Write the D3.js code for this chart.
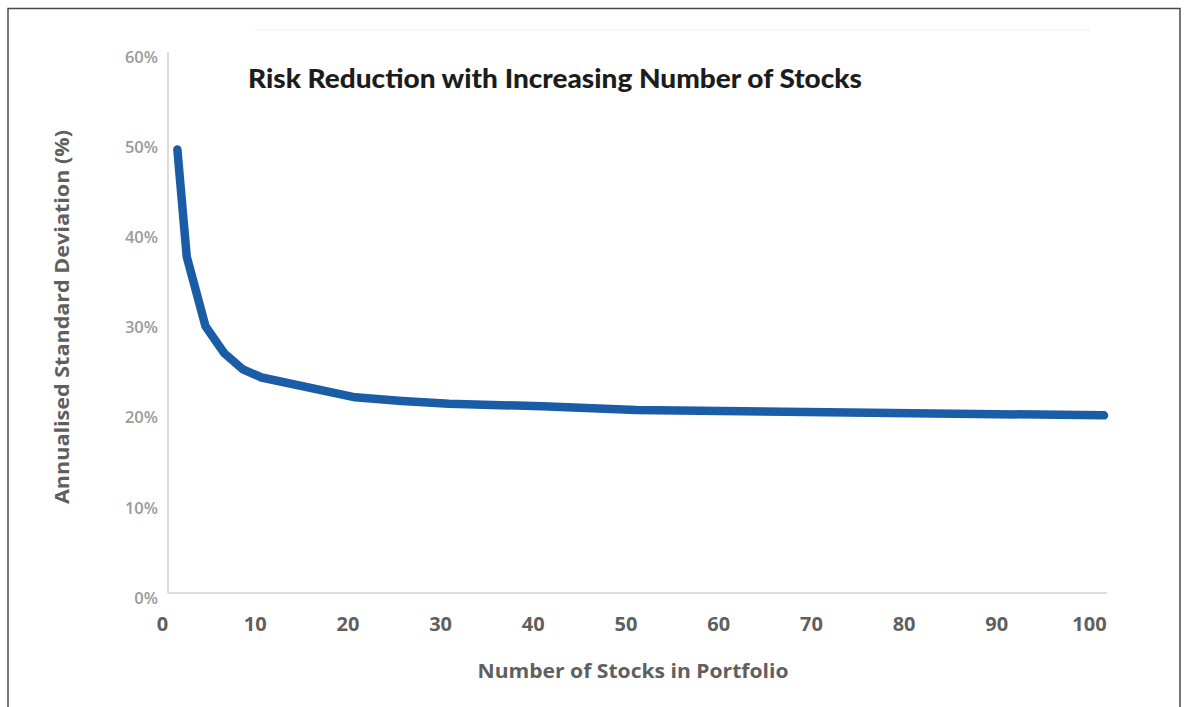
<!DOCTYPE html>
<html>
<head>
<meta charset="utf-8">
<script src="https://cdn.jsdelivr.net/npm/d3@7"></script>
<style>
  html, body { margin: 0; padding: 0; background: #fff; }
  svg { display: block; }
</style>
</head>
<body>
<div id="chart"></div>
<script>
// Portfolio size (number of stocks) and annualised standard deviation (%)
const stockCounts = [1, 2, 4, 6, 8, 10, 20, 25, 30, 40, 50, 75, 100];
const stdDev      = [49.2, 37.3, 29.6, 26.6, 24.8, 23.9, 21.7, 21.3, 21.0, 20.7, 20.3, 20.0, 19.7];

const xTickValues = [0, 10, 20, 30, 40, 50, 60, 70, 80, 90, 100];
const yTickValues = [0, 10, 20, 30, 40, 50, 60];

const titleText = "Risk Reduction with Increasing Number of Stocks";
const xTitle = "Number of Stocks in Portfolio";
const yTitle = "Annualised Standard Deviation (%)";

const W = 1185, H = 707;
const svg = d3.select("#chart").append("svg")
  .attr("width", W).attr("height", H);

// outer frame (open at the bottom)
svg.append("path")
  .attr("d", "M8,707 V8.5 H1180 V707")
  .attr("fill", "none")
  .attr("stroke", "#4a4a4a")
  .attr("stroke-width", 1.5);

// faint rule near the top
svg.append("line")
  .attr("x1", 255).attr("x2", 1090).attr("y1", 30).attr("y2", 30)
  .attr("stroke", "#eeeee4").attr("stroke-width", 1.2)
  .attr("stroke-dasharray", "6 2");

// scales
const x = d3.scaleLinear().domain([0, 100]).range([168, 1104]);
const xLabelPos = d3.scaleLinear().domain([0, 100]).range([162, 1089]);
const y = d3.scaleLinear().domain([0, 60]).range([593, 52]);

// axis lines
svg.append("line")
  .attr("x1", 168).attr("x2", 168).attr("y1", y(60)).attr("y2", y(0))
  .attr("stroke", "#dcdcdc").attr("stroke-width", 2);
svg.append("line")
  .attr("x1", 168).attr("x2", 1107).attr("y1", y(0)).attr("y2", y(0))
  .attr("stroke", "#dcdcdc").attr("stroke-width", 2);

// y tick labels
const yAxis = d3.axisLeft(y)
  .tickValues(yTickValues)
  .tickFormat(d => d + "%")
  .tickSize(0).tickPadding(0);
const gy = svg.append("g").attr("transform", "translate(158,5)").call(yAxis);
gy.select(".domain").remove();
gy.selectAll("text")
  .attr("fill", "#9a9a9a")
  .style("font-family", "'Open Sans', sans-serif")
  .style("font-weight", 600)
  .style("font-size", "16.5px");

// x tick labels
const xAxis = d3.axisBottom(xLabelPos)
  .tickValues(xTickValues)
  .tickFormat(d3.format("d"))
  .tickSize(0).tickPadding(0);
const gx = svg.append("g").attr("transform", "translate(0,617)").call(xAxis);
gx.select(".domain").remove();
gx.selectAll("text")
  .attr("fill", "#5f5f5f")
  .style("font-family", "'Open Sans', sans-serif")
  .style("font-weight", 700)
  .style("font-size", "20px");

// axis titles
svg.append("text")
  .attr("x", 633).attr("y", 678)
  .attr("text-anchor", "middle")
  .attr("fill", "#5f5f5f")
  .style("font-family", "'Open Sans', sans-serif")
  .style("font-weight", 700)
  .style("font-size", "19px")
  .attr("textLength", 311).attr("lengthAdjust", "spacingAndGlyphs")
  .text(xTitle);

svg.append("text")
  .attr("transform", "translate(69,317) rotate(-90)")
  .attr("text-anchor", "middle")
  .attr("fill", "#5f5f5f")
  .style("font-family", "'Open Sans', sans-serif")
  .style("font-weight", 700)
  .style("font-size", "19px")
  .attr("textLength", 374).attr("lengthAdjust", "spacingAndGlyphs")
  .text(yTitle);

// chart title
svg.append("text")
  .attr("x", 248).attr("y", 88)
  .attr("fill", "#1c1c1c")
  .style("font-family", "Lato, sans-serif")
  .style("font-weight", 900)
  .style("font-size", "26px")
  .attr("textLength", 614).attr("lengthAdjust", "spacingAndGlyphs")
  .text(titleText);

// risk curve
const data = stockCounts.map((n, i) => ({ n, v: stdDev[i] }));
const line = d3.line().x(d => x(d.n)).y(d => y(d.v));
svg.append("path")
  .datum(data)
  .attr("d", line)
  .attr("fill", "none")
  .attr("stroke", "#1b5ca6")
  .attr("stroke-width", 8.5)
  .attr("stroke-linejoin", "round")
  .attr("stroke-linecap", "round");
</script>
</body>
</html>
